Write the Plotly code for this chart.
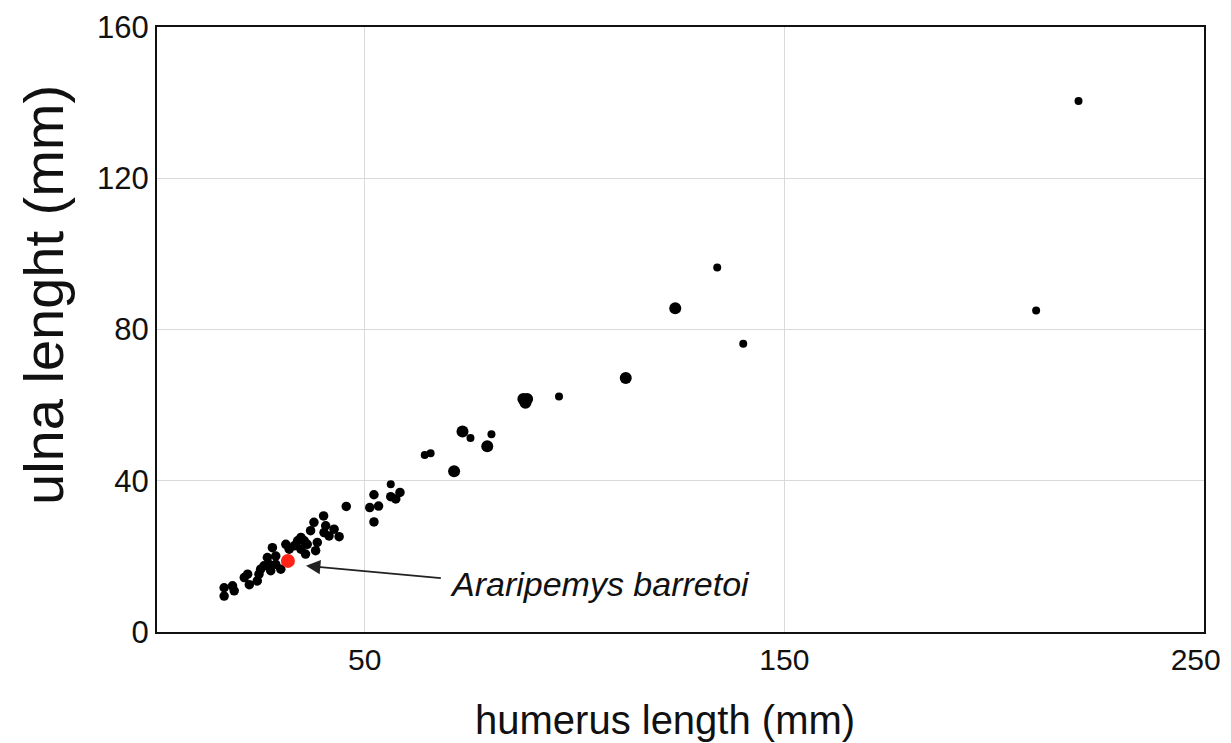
import plotly.graph_objects as go

# humerus length (mm), ulna length (mm)
reg_humerus = [45.6, 40.2, 37.9, 40.7, 37.1, 42.7, 40.3, 43.9, 41.5, 34.8, 34.0, 35.6, 36.3, 38.7,
               31.2, 33.2, 32.0, 34.8, 38.3, 35.9, 28.0, 28.8, 26.8, 30.0, 28.8, 27.2, 26.0, 27.6,
               25.2, 24.8, 24.4, 22.1, 21.3, 22.5, 18.5, 16.5, 18.9, 16.5,
               52.2, 51.2, 53.3, 52.2, 56.2, 57.4, 58.4]
reg_ulna = [33.2, 30.7, 29.0, 28.1, 26.8, 27.2, 26.3, 25.2, 25.4, 25.0, 24.1, 24.1, 23.2, 23.7,
            23.2, 22.8, 21.9, 21.9, 21.5, 20.6, 22.3, 20.1, 19.7, 16.6, 17.9, 17.9, 17.5, 16.2,
            16.6, 15.3, 13.5, 15.3, 14.4, 12.5, 12.2, 11.7, 10.9, 9.5,
            36.3, 32.9, 33.3, 29.1, 35.8, 35.2, 36.9]

small_humerus = [56.2, 64.3, 65.7, 75.2, 80.2, 96.3, 134.0, 140.2, 210.0, 220.1]
small_ulna = [39.1, 46.8, 47.3, 51.3, 52.3, 62.3, 96.4, 76.2, 85.0, 140.4]

large_humerus = [71.3, 73.3, 79.2, 87.8, 88.7, 88.3, 112.2, 124.0]
large_ulna = [42.5, 53.0, 49.1, 61.6, 61.6, 60.6, 67.2, 85.6]

araripemys_humerus = [31.7]
araripemys_ulna = [18.8]

x_tickvals = [50, 150, 250]
x_ticktext = ["50", "150", "250\u00a0\u00a0"]
y_tickvals = [0, 40, 80, 120, 160]

label_text = "Araripemys barretoi"
x_title = "humerus length (mm)"
y_title = "ulna lenght (mm)"

fig = go.Figure()
fig.add_trace(go.Scatter(x=reg_humerus, y=reg_ulna, mode="markers",
                         marker=dict(color="black", size=9.5), showlegend=False))
fig.add_trace(go.Scatter(x=small_humerus, y=small_ulna, mode="markers",
                         marker=dict(color="black", size=8), showlegend=False))
fig.add_trace(go.Scatter(x=large_humerus, y=large_ulna, mode="markers",
                         marker=dict(color="black", size=12), showlegend=False))
fig.add_trace(go.Scatter(x=araripemys_humerus, y=araripemys_ulna, mode="markers",
                         marker=dict(color="#ff2216", size=14), showlegend=False))

# arrow
fig.add_annotation(x=36.0, y=17.5, ax=68.5, ay=14.2, xref="x", yref="y", axref="x", ayref="y",
                   text="", showarrow=True, arrowhead=2, arrowsize=1.6, arrowwidth=1.8,
                   arrowcolor="#222222")
fig.add_annotation(x=69.8, y=12.8, xref="x", yref="y", text="<i>" + label_text + "</i>",
                   showarrow=False, xanchor="left", yanchor="middle",
                   font=dict(family="Liberation Sans, Arial", size=34, color="#111111"))

# axis titles
fig.add_annotation(x=0.485, y=-0.1455, xref="paper", yref="paper", text=x_title,
                   showarrow=False, xanchor="center", yanchor="middle",
                   font=dict(family="Liberation Sans, Arial", size=40, color="#111111"))
fig.add_annotation(x=-0.1089, y=0.557, xref="paper", yref="paper", text=y_title,
                   showarrow=False, xanchor="center", yanchor="middle", textangle=-90,
                   font=dict(family="Liberation Sans, Arial", size=56, color="#111111"))

fig.update_layout(
    width=1231, height=743,
    margin=dict(l=149, r=35, t=19, b=119),
    paper_bgcolor="white", plot_bgcolor="white",
    font=dict(family="Liberation Sans, Arial", color="#111111"),
    xaxis=dict(range=[0.5, 250], tickvals=x_tickvals, ticktext=x_ticktext, showgrid=True,
               gridcolor="#d9d9d9", gridwidth=1, zeroline=False, showline=True,
               linecolor="#111111", linewidth=2, mirror=True, ticks="",
               tickfont=dict(size=30), automargin=False),
    yaxis=dict(range=[0, 160], tickvals=y_tickvals, showgrid=True, gridcolor="#d9d9d9",
               gridwidth=1, zeroline=False, showline=True, linecolor="#111111", linewidth=2,
               mirror=True, ticks="", tickfont=dict(size=31), automargin=False),
)

fig.write_html("out.html")
